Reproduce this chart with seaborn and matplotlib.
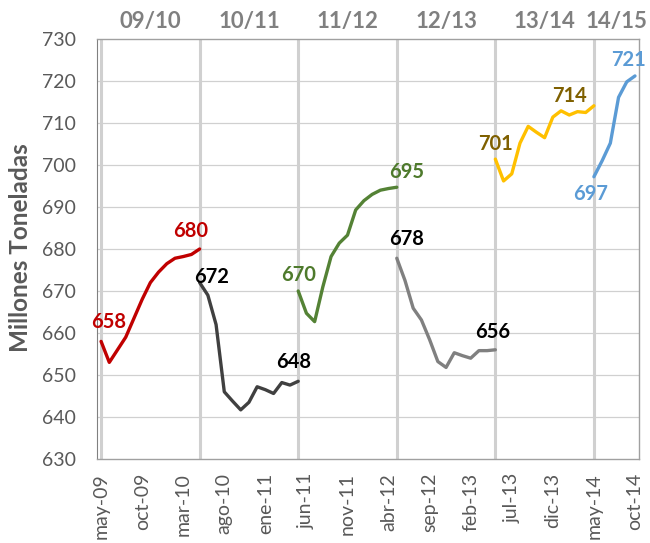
import numpy as np
import pandas as pd
import matplotlib
matplotlib.use('Agg')
import matplotlib.pyplot as plt
import matplotlib.transforms as mtransforms
import seaborn as sns

# month labels (may-09 .. oct-14)
month_names = ['ene', 'feb', 'mar', 'abr', 'may', 'jun', 'jul', 'ago', 'sep', 'oct', 'nov', 'dic']
months = [f"{month_names[(4 + i) % 12]}-{(9 + (4 + i) // 12):02d}" for i in range(66)]

seasons = ['09/10', '10/11', '11/12', '12/13', '13/14', '14/15']
season_start = [0, 12, 24, 36, 48, 60]

s0910 = [658, 653, 656, 659, 663.5, 668, 672, 674.5, 676.5, 677.8, 678.2, 678.7, 680]
s1011 = [672, 669, 662, 646, 643.8, 641.7, 643.5, 647.2, 646.5, 645.6, 648.2, 647.6, 648.5]
s1112 = [670, 664.7, 662.7, 671, 678.2, 681.4, 683.3, 689.3, 691.5, 693, 694, 694.4, 694.7]
s1213 = [677.8, 672.5, 665.9, 663.1, 658.4, 653.2, 651.8, 655.3, 654.6, 654, 655.8, 655.8, 656]
s1314 = [701.4, 696.2, 697.9, 705.2, 709.2, 707.8, 706.5, 711.4, 712.9, 711.9, 712.7, 712.5, 714.1]
s1415 = [697.2, 701, 705.2, 716.1, 719.8, 721.2]
series = [s0910, s1011, s1112, s1213, s1314, s1415]

line_colors = ['#C00000', '#404040', '#548235', '#808080', '#FFC000', '#5B9BD5']
label_colors = ['#C00000', '#000000', '#4E7A2C', '#000000', '#7F6000', '#5B9BD5']

# value labels: (season, text, x, y)
labels = [
    (0, '658', 0.9, 662.5), (0, '680', 10.9, 684.4),
    (1, '672', 13.4, 673.3), (1, '648', 23.4, 653.2),
    (2, '670', 24.0, 673.8), (2, '695', 37.2, 698.3),
    (3, '678', 37.2, 682.4), (3, '656', 47.7, 660.2),
    (4, '701', 48.0, 705.0), (4, '714', 57.0, 716.5),
    (5, '697', 59.6, 693.1), (5, '721', 64.2, 725.0),
]

rows = []
for s, start, vals in zip(seasons, season_start, series):
    for i, v in enumerate(vals):
        rows.append({'idx': start + i, 'value': v, 'season': s})
df = pd.DataFrame(rows)

sns.set_style('white')
plt.rcParams['font.family'] = ['Lato', 'DejaVu Sans']

fig = plt.figure(figsize=(6.5, 5.43), dpi=100)
ax = fig.add_axes([0.1492, 0.1547, 0.834, 0.7735])

ax.set_xlim(-0.5, 65.5)
ax.set_ylim(630, 730)

# grid
for yv in range(640, 730, 10):
    ax.axhline(yv, color='#D0D0D0', lw=0.9, zorder=0)
for st in season_start:
    ax.axvline(st, color='#D0D0D0', lw=2.2, zorder=0)

sns.lineplot(data=df, x='idx', y='value', hue='season',
             palette=dict(zip(seasons, line_colors)), linewidth=2.4,
             legend=False, ax=ax, zorder=3)

for si, txt, x, y in labels:
    ax.text(x, y, txt, color=label_colors[si], fontsize=14.5, fontweight='bold',
            ha='center', va='center', zorder=4)

# season titles above the plot
trans = mtransforms.blended_transform_factory(ax.transData, ax.transAxes)
for s, st in zip(seasons, season_start):
    xm = (st + min(st + 12, 65.5)) / 2
    ax.text(xm, 1.041, s, transform=trans, color='#808080', fontsize=16,
            fontweight='bold', ha='center', va='center')

ax.set_xticks(range(0, 66, 5))
ax.set_xticklabels(months[::5], rotation=90)
ax.set_yticks(range(630, 731, 10))
ax.tick_params(axis='x', length=0, pad=10, labelsize=14, colors='#595959')
ax.tick_params(axis='y', length=0, pad=15, labelsize=14, colors='#595959')

for side in ['top', 'right', 'bottom']:
    ax.spines[side].set_color('#A0A0A0')
    ax.spines[side].set_linewidth(1)
ax.spines['left'].set_color('#808080')

ax.set_xlabel('')
ax.set_ylabel('Millones Toneladas', fontsize=17.5, fontweight='bold', color='#595959')
ax.yaxis.set_label_coords(-0.12, 0.504)

fig.savefig('out.png', dpi=100)
